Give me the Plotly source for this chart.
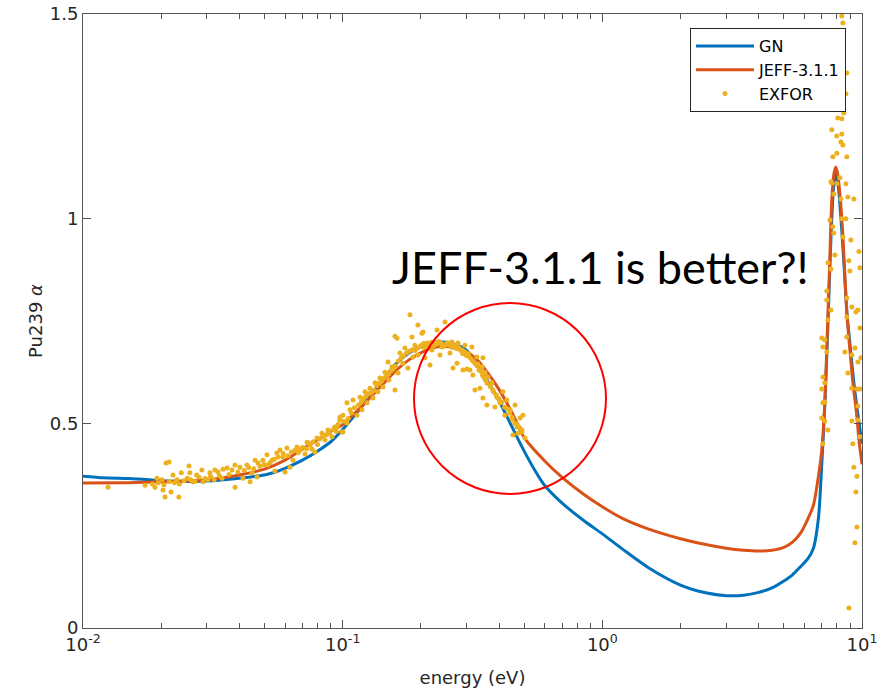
import plotly.graph_objects as go

# ---------------- data ----------------
gn_energy = [0.01, 0.012, 0.015, 0.018, 0.02, 0.025, 0.03, 0.04, 0.05, 0.055,
             0.06, 0.07, 0.08, 0.09, 0.1, 0.12, 0.14, 0.16, 0.18, 0.2,
             0.22, 0.25, 0.28, 0.3, 0.33, 0.36, 0.4, 0.45, 0.5, 0.55,
             0.6, 0.7, 0.85, 1.0, 1.2, 1.5, 2.0, 2.5, 3.0, 3.5,
             4.0, 4.5, 5.0, 5.4, 5.8, 6.2, 6.5, 6.8, 7.0, 7.2,
             7.4, 7.6, 7.8, 7.93, 8.1, 8.3, 8.5, 8.75, 9.0, 9.3,
             9.6, 10.0]
gn_alpha = [0.371, 0.367, 0.365, 0.362, 0.360, 0.358, 0.359, 0.366, 0.374, 0.381,
            0.390, 0.410, 0.432, 0.455, 0.485, 0.545, 0.600, 0.645, 0.672, 0.688,
            0.696, 0.698, 0.690, 0.678, 0.645, 0.605, 0.555, 0.490, 0.432, 0.385,
            0.348, 0.305, 0.262, 0.230, 0.192, 0.148, 0.105, 0.086, 0.079, 0.080,
            0.087, 0.098, 0.115, 0.130, 0.150, 0.170, 0.195, 0.270, 0.400, 0.550,
            0.750, 0.960, 1.090, 1.110, 1.080, 1.000, 0.900, 0.770, 0.690, 0.600,
            0.530, 0.450]

jeff_energy = [0.01, 0.015, 0.02, 0.03, 0.04, 0.05, 0.06, 0.07, 0.08, 0.09,
               0.1, 0.12, 0.14, 0.16, 0.18, 0.2, 0.22, 0.25, 0.28, 0.3,
               0.33, 0.36, 0.4, 0.45, 0.5, 0.6, 0.7, 0.85, 1.0, 1.2,
               1.5, 2.0, 2.5, 3.0, 3.5, 4.0, 4.5, 5.0, 5.4, 5.8,
               6.1, 6.5, 6.7, 7.0, 7.2, 7.35, 7.5, 7.65, 7.8, 7.93,
               8.05, 8.22, 8.44, 8.74, 8.98, 9.22, 9.56, 9.73, 10.0]
jeff_alpha = [0.354, 0.355, 0.357, 0.362, 0.374, 0.388, 0.410, 0.437, 0.460, 0.480,
              0.497, 0.545, 0.590, 0.628, 0.655, 0.672, 0.684, 0.688, 0.682, 0.675,
              0.655, 0.625, 0.583, 0.525, 0.465, 0.408, 0.368, 0.326, 0.296, 0.267,
              0.242, 0.218, 0.204, 0.195, 0.190, 0.188, 0.190, 0.197, 0.210, 0.232,
              0.258, 0.300, 0.345, 0.435, 0.560, 0.720, 0.880, 1.046, 1.110, 1.126,
              1.110, 1.060, 0.960, 0.770, 0.680, 0.600, 0.516, 0.460, 0.400]

# EXFOR measurements: thermal region (scattered readings)
exfor_low_energy = [0.01248, 0.01734, 0.01893, 0.01927, 0.02015, 0.02033, 0.0207, 0.02088, 0.02145, 0.02182,
                    0.0222, 0.0230, 0.0234, 0.0239, 0.0252, 0.0256, 0.0258, 0.0265, 0.0274, 0.0287,
                    0.0290, 0.0303, 0.0308, 0.0322, 0.0331, 0.0343, 0.0346, 0.0359, 0.0375, 0.0385,
                    0.0385, 0.0402, 0.0413, 0.0428, 0.0440, 0.0448, 0.0460, 0.0468, 0.0472, 0.0493,
                    0.0511, 0.0515, 0.0534, 0.0548, 0.0558, 0.0574, 0.0589, 0.0600, 0.0610, 0.0627,
                    0.0644, 0.0667, 0.0685, 0.0716, 0.0729, 0.0748, 0.0761, 0.0782, 0.0796, 0.0832,
                    0.0855, 0.0878, 0.0909, 0.0950, 0.0976, 0.0993, 0.1002, 0.1039]
exfor_low_alpha = [0.344, 0.349, 0.344, 0.366, 0.362, 0.337, 0.320, 0.403, 0.4055, 0.332,
                   0.374, 0.362, 0.320, 0.379, 0.366, 0.396, 0.379, 0.357, 0.374, 0.386,
                   0.357, 0.362, 0.379, 0.386, 0.381, 0.366, 0.388, 0.391, 0.386, 0.344,
                   0.398, 0.393, 0.366, 0.398, 0.357, 0.379, 0.410, 0.369, 0.403, 0.410,
                   0.423, 0.398, 0.410, 0.3835, 0.4275, 0.435, 0.418, 0.381, 0.440, 0.393,
                   0.410, 0.442, 0.435, 0.425, 0.454, 0.447, 0.437, 0.430, 0.464, 0.476,
                   0.459, 0.484, 0.467, 0.491, 0.508, 0.479, 0.520, 0.501]

# EXFOR measurements: dense band along the curve
exfor_band_energy = [0.0185, 0.0195, 0.0205, 0.0215, 0.0225, 0.0235, 0.0245, 0.0260, 0.0270, 0.0280,
                     0.0295, 0.0310, 0.0320, 0.0335, 0.0365, 0.0395, 0.0418, 0.0435, 0.0455, 0.0480,
                     0.0498, 0.0525, 0.0545, 0.0565, 0.0590, 0.0615, 0.0635, 0.0655, 0.0675, 0.0700,
                     0.0725, 0.0740, 0.0770, 0.0800, 0.0815, 0.0840, 0.0865, 0.0890, 0.0920, 0.0945,
                     0.0960, 0.1010, 0.1050, 0.1080, 0.1110, 0.1150, 0.1180, 0.1200, 0.1230, 0.1260,
                     0.1290, 0.1320, 0.1350, 0.1380, 0.1410, 0.1440, 0.1470, 0.1500, 0.1530, 0.1560,
                     0.1600, 0.1640, 0.1680, 0.1720, 0.1760, 0.1800, 0.1850, 0.1900, 0.1950, 0.2000,
                     0.2050, 0.2100, 0.2150, 0.2200, 0.2250, 0.2300, 0.2350, 0.2400, 0.2450, 0.2500,
                     0.2550, 0.2600, 0.2650, 0.2700, 0.2750, 0.2800, 0.2850, 0.2900, 0.2950, 0.3000,
                     0.3050, 0.3100, 0.3150, 0.3200, 0.3250, 0.3300, 0.3350, 0.3400, 0.3450, 0.3500,
                     0.3550, 0.3600, 0.3700, 0.3800, 0.3900, 0.4000, 0.4100, 0.4200, 0.4300, 0.4400,
                     0.4500, 0.4600, 0.4700, 0.4800, 0.4900]
exfor_band_alpha = [0.352, 0.355, 0.350, 0.358, 0.355, 0.352, 0.360, 0.362, 0.358, 0.368,
                    0.365, 0.370, 0.362, 0.372, 0.375, 0.381, 0.385, 0.392, 0.389, 0.395,
                    0.399, 0.404, 0.412, 0.418, 0.426, 0.421, 0.430, 0.434, 0.428, 0.441,
                    0.438, 0.452, 0.455, 0.448, 0.462, 0.468, 0.472, 0.476, 0.485, 0.480,
                    0.497, 0.505, 0.512, 0.525, 0.538, 0.545, 0.552, 0.560, 0.566, 0.572,
                    0.575, 0.580, 0.592, 0.598, 0.603, 0.610, 0.615, 0.620, 0.628, 0.632,
                    0.640, 0.652, 0.660, 0.665, 0.672, 0.676, 0.680, 0.678, 0.684, 0.690,
                    0.695, 0.688, 0.692, 0.698, 0.690, 0.694, 0.700, 0.695, 0.688, 0.692,
                    0.696, 0.690, 0.685, 0.690, 0.682, 0.685, 0.678, 0.670, 0.675, 0.665,
                    0.670, 0.660, 0.655, 0.650, 0.645, 0.640, 0.630, 0.628, 0.618, 0.612,
                    0.605, 0.598, 0.590, 0.578, 0.570, 0.560, 0.552, 0.540, 0.535, 0.525,
                    0.510, 0.500, 0.498, 0.490, 0.484]

# EXFOR measurements: around the peak
exfor_peak_energy = [0.0933, 0.1002, 0.0976, 0.1039, 0.1067, 0.1096, 0.1135, 0.1166, 0.1187, 0.1219,
                     0.1241, 0.1274, 0.1308, 0.1332, 0.1367, 0.1392, 0.1430, 0.1455, 0.1495, 0.1508,
                     0.1548, 0.1590, 0.1590, 0.1619, 0.1633, 0.1662, 0.1707, 0.1737, 0.1784, 0.1816,
                     0.1849, 0.1865, 0.1898, 0.1949, 0.1949, 0.2020, 0.2038, 0.2075, 0.2112, 0.2169,
                     0.2208, 0.2268, 0.2309, 0.2370, 0.2413, 0.2478, 0.2522, 0.2590, 0.2636, 0.2707,
                     0.2756, 0.2780, 0.2880, 0.2905, 0.2957, 0.3037, 0.3090, 0.3146, 0.3174, 0.3231,
                     0.3288, 0.3318, 0.3438, 0.3468, 0.3468, 0.3530, 0.3593, 0.3625, 0.3756, 0.3790,
                     0.3858, 0.3926, 0.4032, 0.4140, 0.4214, 0.4290, 0.4410, 0.4489, 0.4610, 0.4693,
                     0.4817, 0.4903, 0.4947, 0.4529, 0.4734, 0.5035, 0.2660, 0.3010, 0.3377, 0.2038]
exfor_peak_alpha = [0.491, 0.479, 0.515, 0.550, 0.533, 0.557, 0.520, 0.564, 0.533, 0.577,
                    0.550, 0.586, 0.562, 0.599, 0.577, 0.611, 0.589, 0.625, 0.650, 0.606,
                    0.638, 0.5815, 0.713, 0.708, 0.623, 0.672, 0.647, 0.684, 0.635, 0.765,
                    0.711, 0.662, 0.691, 0.740, 0.667, 0.720, 0.6865, 0.660, 0.696, 0.6425,
                    0.679, 0.699, 0.728, 0.667, 0.6865, 0.7475, 0.696, 0.672, 0.699, 0.6865,
                    0.647, 0.696, 0.679, 0.630, 0.691, 0.667, 0.630, 0.6865, 0.618, 0.5815,
                    0.662, 0.645, 0.638, 0.562, 0.660, 0.625, 0.545, 0.613, 0.599, 0.5815,
                    0.540, 0.564, 0.550, 0.577, 0.520, 0.557, 0.533, 0.515, 0.545, 0.491,
                    0.513, 0.479, 0.520, 0.4715, 0.476, 0.464, 0.635, 0.633, 0.586, 0.723]

# EXFOR measurements: 7.8 eV resonance
exfor_res_energy = [8.36, 8.44, 8.74, 8.67, 8.51, 8.07, 8.36, 7.65, 8.00, 8.36,
                    8.29, 8.44, 8.00, 7.72, 8.74, 7.59, 7.65, 8.00, 8.22, 8.67,
                    8.82, 9.30, 7.79, 8.29, 7.52, 7.72, 8.36, 8.67, 7.79, 8.44,
                    9.06, 7.86, 7.39, 8.90, 7.59, 8.98, 7.32, 8.74, 9.64, 9.47,
                    7.59, 7.32, 7.39, 9.14, 8.74, 7.00, 7.19, 7.07, 7.32, 8.59,
                    9.39, 9.14, 9.81, 9.64, 8.74, 8.82, 7.07, 7.19, 7.00, 9.14,
                    9.56, 9.81, 7.19, 7.07, 9.64, 7.00, 7.19, 9.14, 9.64, 7.39,
                    9.81, 7.07, 9.22, 9.30, 9.56, 9.47, 9.56, 9.39, 8.90, 9.81,
                    9.73, 9.90]
exfor_res_alpha = [1.495, 1.478, 1.356, 1.305, 1.258, 1.246, 1.244, 1.217, 1.202, 1.207,
                   1.187, 1.180, 1.160, 1.151, 1.151, 1.090, 1.087, 1.085, 1.100, 1.085,
                   1.053, 1.048, 1.060, 1.048, 0.997, 0.980, 1.000, 1.000, 0.965, 0.955,
                   0.948, 0.911, 0.892, 0.897, 0.877, 0.872, 0.823, 0.806, 0.777, 0.772,
                   0.777, 0.801, 0.7525, 0.784, 0.760, 0.7085, 0.704, 0.6865, 0.674, 0.674,
                   0.684, 0.667, 0.733, 0.650, 0.711, 0.623, 0.613, 0.599, 0.584, 0.586,
                   0.584, 0.584, 0.552, 0.550, 0.5425, 0.513, 0.506, 0.506, 0.508, 0.484,
                   0.467, 0.450, 0.450, 0.393, 0.371, 0.332, 0.247, 0.208, 0.049, 0.880,
                   0.920, 0.660]

exfor_energy = exfor_low_energy + exfor_band_energy + exfor_peak_energy + exfor_res_energy
exfor_alpha = exfor_low_alpha + exfor_band_alpha + exfor_peak_alpha + exfor_res_alpha

x_tick_vals = [0.01, 0.1, 1, 10]
x_tick_text = ["10<sup>-2</sup>", "10<sup>-1</sup>", "10<sup>0</sup>", "10<sup>1</sup>"]
x_minor_vals = [m * d for d in (0.01, 0.1, 1) for m in range(2, 10)]
y_tick_vals = [0, 0.5, 1, 1.5]
y_tick_text = ["0", "0.5", "1", "1.5"]

# ---------------- figure ----------------
W, H = 895, 692
ML, MR, MT, MB = 83, 33, 14, 64
PW, PH = W - ML - MR, H - MT - MB

def px_x(p):
    return (p - ML) / PW

def px_y(p):
    return (H - MB - p) / PH

axis_col = "#555555"
txt_col = "#262626"
FONT = "DejaVu Sans"

fig = go.Figure()
fig.add_trace(go.Scatter(x=gn_energy, y=gn_alpha, mode="lines", name="GN",
                         line=dict(color="#0072BD", width=3, shape="spline", smoothing=0.7)))
fig.add_trace(go.Scatter(x=jeff_energy, y=jeff_alpha, mode="lines", name="JEFF-3.1.1",
                         line=dict(color="#D95319", width=3, shape="spline", smoothing=0.7)))
fig.add_trace(go.Scatter(x=exfor_energy, y=exfor_alpha, mode="markers", name="EXFOR",
                         marker=dict(color="#EDB120", size=5, line=dict(width=0))))

fig.update_layout(
    width=W, height=H,
    template="none",
    margin=dict(l=ML, r=MR, t=MT, b=MB, autoexpand=False),
    paper_bgcolor="white", plot_bgcolor="white",
    font=dict(family=FONT, size=18, color=txt_col),
    showlegend=True,
    legend=dict(x=px_x(846), y=px_y(28), xanchor="right", yanchor="top",
                bgcolor="white", bordercolor=txt_col, borderwidth=1,
                font=dict(family=FONT, size=16, color="#000000"),
                tracegroupgap=0, itemwidth=58),
    xaxis=dict(type="log", range=[-2, 1], tickvals=x_tick_vals, ticktext=x_tick_text,
               ticks="inside", ticklen=8, tickwidth=1, tickcolor=axis_col,
               minor=dict(tickvals=x_minor_vals, ticks="inside", ticklen=5, tickcolor=axis_col, showgrid=False),
               showline=True, linecolor=axis_col, linewidth=1, mirror="ticks",
               showgrid=False, zeroline=False, automargin=False,
               title=dict(text="energy (eV)", font=dict(size=18, color=txt_col), standoff=17),
               tickfont=dict(size=18, color=txt_col)),
    yaxis=dict(range=[0, 1.5], tickvals=y_tick_vals, ticktext=y_tick_text,
               ticks="inside", ticklen=8, tickwidth=1, tickcolor=axis_col,
               showline=True, linecolor=axis_col, linewidth=1, mirror="ticks",
               showgrid=False, zeroline=False, automargin=False,
               title=dict(text="Pu239 <i>α</i>", font=dict(size=18, color=txt_col), standoff=2),
               tickfont=dict(size=18, color=txt_col)),
)

fig.add_shape(type="circle", xref="paper", yref="paper",
              x0=px_x(414), x1=px_x(606), y0=px_y(494), y1=px_y(303),
              line=dict(color="#FF0000", width=2))

fig.add_annotation(xref="paper", yref="paper", x=px_x(390), y=px_y(267),
                   xanchor="left", yanchor="middle", showarrow=False,
                   text="JEFF-3.1.1 is better?!",
                   font=dict(family="Lato", size=45, color="#000000"))

fig.write_html("out.html")
